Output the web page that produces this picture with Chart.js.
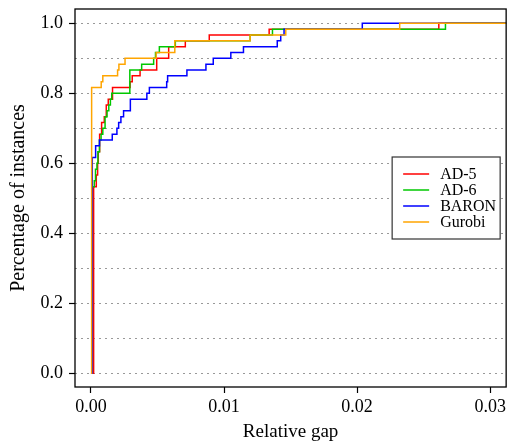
<!DOCTYPE html>
<html>
<head>
<meta charset="utf-8">
<script src="https://cdn.jsdelivr.net/npm/chart.js@4"></script>
<style>
  html, body { margin: 0; padding: 0; background: #fff; }
  #wrap { width: 509px; height: 443px; }
</style>
</head>
<body>
<div id="wrap"><canvas id="gapChart"></canvas></div>
<script>
// step points: relative gap -> share of instances solved within that gap
const ad5Gap = [0, 0.0002, 0.0004, 0.0005, 0.00055, 0.00065, 0.0008, 0.001, 0.00115, 0.0013, 0.00162, 0.00294, 0.0031, 0.00369, 0.00494, 0.00584, 0.00709, 0.00889, 0.01339, 0.02614, 0.032];
const ad5Share = [0, 0.533, 0.567, 0.6, 0.633, 0.683, 0.717, 0.733, 0.767, 0.783, 0.817, 0.833, 0.85, 0.867, 0.9, 0.933, 0.95, 0.967, 0.983, 1, 1];

const ad6Gap = [0, 0.0001, 0.00025, 0.00034, 0.00045, 0.00052, 0.00064, 0.00076, 0.00089, 0.00106, 0.00121, 0.00134, 0.00146, 0.00156, 0.00292, 0.00381, 0.00471, 0.00485, 0.00514, 0.00634, 0.01196, 0.01364, 0.02664, 0.032];
const ad6Share = [0, 0.533, 0.55, 0.583, 0.6, 0.633, 0.667, 0.683, 0.7, 0.733, 0.75, 0.767, 0.783, 0.8, 0.867, 0.883, 0.9, 0.917, 0.933, 0.95, 0.967, 0.983, 1, 1];

const baronGap = [0, 0.0001, 0.00035, 0.00064, 0.0016, 0.00195, 0.00208, 0.00225, 0.00245, 0.00296, 0.0042, 0.00439, 0.00569, 0.00576, 0.00721, 0.00864, 0.00919, 0.01051, 0.01146, 0.014, 0.01426, 0.01451, 0.02039, 0.032];
const baronShare = [0, 0.617, 0.65, 0.667, 0.683, 0.7, 0.717, 0.733, 0.75, 0.783, 0.8, 0.817, 0.833, 0.85, 0.867, 0.883, 0.9, 0.917, 0.933, 0.95, 0.967, 0.983, 1, 1];

const gurobiGap = [0, 0.00005, 0.00077, 0.00089, 0.002, 0.0021, 0.00256, 0.0049, 0.0063, 0.01196, 0.01464, 0.0232, 0.032];
const gurobiShare = [0, 0.817, 0.833, 0.85, 0.867, 0.883, 0.9, 0.917, 0.95, 0.967, 0.983, 1, 1];

const xTicks = [0, 0.01, 0.02, 0.03];
const yTicks = [0, 0.1, 0.2, 0.3, 0.4, 0.5, 0.6, 0.7, 0.8, 0.9, 1.0];

const serif = '"Liberation Serif", "DejaVu Serif", serif';

function toPoints(xs, ys) {
    return xs.map((x, i) => ({ x: x, y: ys[i] }));
}

function stepSet(label, xs, ys, color, order) {
    return {
        label: label,
        data: toPoints(xs, ys),
        borderColor: color,
        backgroundColor: color,
        borderWidth: 1.5,
        pointRadius: 0,
        stepped: true,
        fill: false,
        order: order
    };
}

// frame around the plot area + legend box inside it
const framePlugin = {
    id: 'frame',
    afterDraw(chart) {
        const { ctx, chartArea: a } = chart;
        ctx.save();
        ctx.strokeStyle = '#000';
        ctx.lineWidth = 1.3;
        ctx.strokeRect(a.left, a.top, a.right - a.left, a.bottom - a.top);

        const bx = a.right - 114, by = a.top + 148, bw = 108, bh = 82;
        ctx.fillStyle = '#fff';
        ctx.fillRect(bx, by, bw, bh);
        ctx.strokeStyle = '#333';
        ctx.lineWidth = 1.2;
        ctx.strokeRect(bx, by, bw, bh);
        ctx.font = '16px ' + serif;
        ctx.textBaseline = 'middle';
        chart.data.datasets.forEach((ds, i) => {
            const yy = by + 17 + i * 16;
            ctx.strokeStyle = ds.borderColor;
            ctx.lineWidth = 1.5;
            ctx.beginPath();
            ctx.moveTo(bx + 11, yy);
            ctx.lineTo(bx + 37, yy);
            ctx.stroke();
            ctx.fillStyle = '#000';
            ctx.fillText(ds.label, bx + 48, yy + 1);
        });
        ctx.restore();
    }
};

new Chart(document.getElementById('gapChart'), {
    type: 'line',
    data: {
        datasets: [
            stepSet('AD-5', ad5Gap, ad5Share, '#ff0000', 3),
            stepSet('AD-6', ad6Gap, ad6Share, '#00c800', 2),
            stepSet('BARON', baronGap, baronShare, '#0000ff', 1),
            stepSet('Gurobi', gurobiGap, gurobiShare, '#ffa500', 0)
        ]
    },
    options: {
        responsive: true,
        maintainAspectRatio: false,
        animation: false,
        layout: { padding: { top: 9, right: 2, left: 0, bottom: 0 } },
        plugins: {
            legend: { display: false },
            tooltip: { enabled: false }
        },
        scales: {
            x: {
                type: 'linear',
                min: -0.0012,
                max: 0.0312,
                afterBuildTicks: axis => { axis.ticks = xTicks.map(v => ({ value: v })); },
                afterFit: axis => { axis.height = 56; },
                ticks: {
                    color: '#000',
                    padding: 3,
                    maxRotation: 0,
                    font: { family: serif, size: 18 },
                    callback: v => v.toFixed(2)
                },
                grid: {
                    drawOnChartArea: false,
                    tickLength: 6,
                    tickColor: '#000',
                    tickWidth: 1.2
                },
                border: { display: false },
                title: {
                    display: true,
                    text: 'Relative gap',
                    color: '#000',
                    font: { family: serif, size: 19 },
                    padding: { top: 0, bottom: 0 }
                }
            },
            y: {
                type: 'linear',
                min: -0.039,
                max: 1.041,
                afterBuildTicks: axis => { axis.ticks = yTicks.map(v => ({ value: v })); },
                afterFit: axis => {
                    axis.width = 75;
                    axis.paddingTop = 0;
                    axis.paddingBottom = 0;
                },
                ticks: {
                    color: '#000',
                    padding: 6,
                    font: { family: serif, size: 18 },
                    callback: (v, i) => (i % 2 === 0 ? v.toFixed(1) : '')
                },
                grid: {
                    color: '#999',
                    lineWidth: 1,
                    tickLength: 6,
                    tickWidth: 1.2,
                    tickColor: c => (c.index % 2 === 0 ? '#000' : 'rgba(0,0,0,0)')
                },
                border: { display: false, dash: [2, 4] },
                title: {
                    display: true,
                    text: 'Percentage of instances',
                    color: '#000',
                    font: { family: serif, size: 20 },
                    padding: { top: 7, bottom: 0 }
                }
            }
        }
    },
    plugins: [framePlugin]
});
</script>
</body>
</html>
